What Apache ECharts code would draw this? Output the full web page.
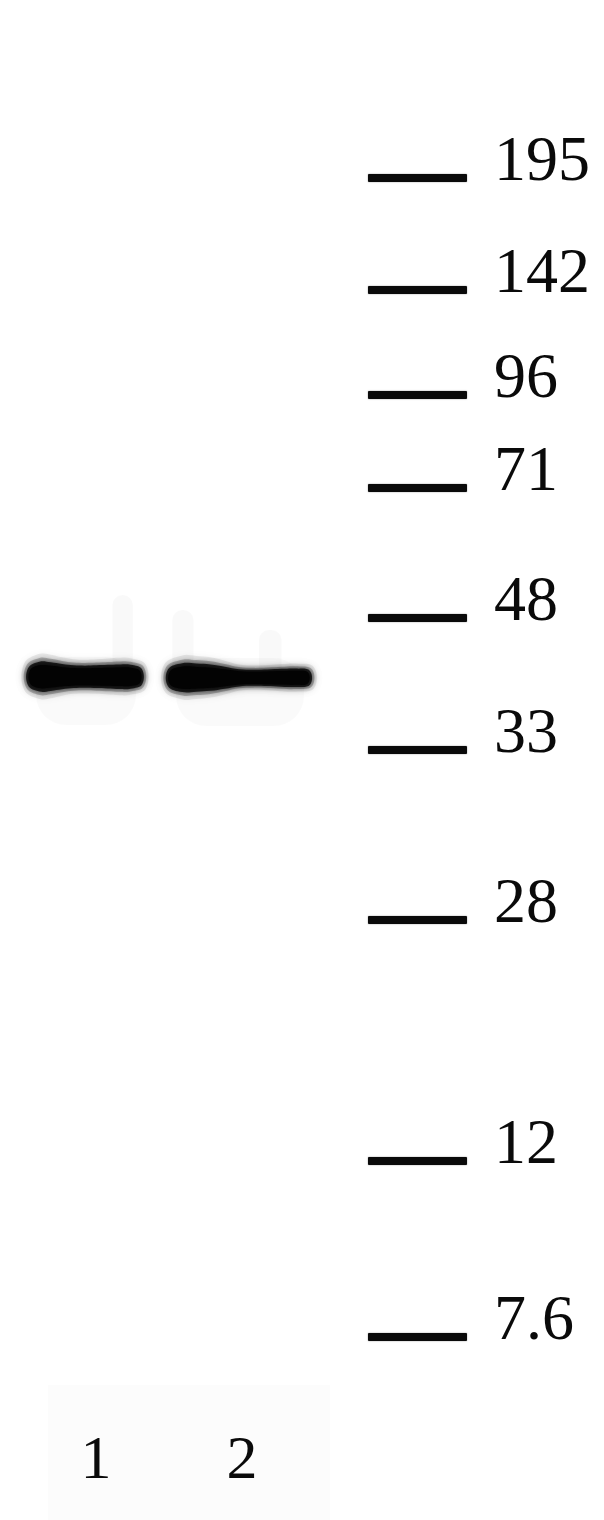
<!DOCTYPE html>
<html>
<head>
<meta charset="utf-8">
<style>
html,body{margin:0;padding:0;background:#ffffff;}
#chart{width:604px;height:1520px;}
</style>
<script src="https://cdn.jsdelivr.net/npm/echarts@6/dist/echarts.min.js"></script>
</head>
<body>
<div id="chart"></div>
<script>
// ---- data read from the blot ----
// Ladder: marker sizes (kDa) and migration distance from top of gel
const markerLabels = ['195', '142', '96', '71', '48', '33', '28', '12', '7.6'];
const markerMigration = [178, 290, 395, 488, 618, 750, 920, 1161, 1337];
const ladderLane = 418;

// Sample lanes
const laneNames = ['1', '2'];
const laneCenters = [96, 242];
const bandMigration = [677, 678];
const bandLeft = [28, 168];
const bandRight = [142, 310];
// band density sampled evenly across each band, left to right
const lane1Density = [0.55, 0.97, 0.93, 0.82, 0.74, 0.72, 0.74, 0.77, 0.8, 0.78, 0.5];
const lane2Density = [0.55, 0.94, 0.92, 0.86, 0.72, 0.56, 0.52, 0.54, 0.58, 0.6, 0.45];
const laneDensities = [lane1Density, lane2Density];
const laneLabelMigration = 1461;

// ---- chart ----
const chart = echarts.init(document.getElementById('chart'), null, {renderer: 'canvas'});
const SERIF = '"Liberation Serif", "DejaVu Serif", serif';

function bandPoints(api, i, scale, pad) {
  const dens = laneDensities[i];
  const n = dens.length;
  const yMid = bandMigration[i];
  const halfMax = 15 * scale;
  const top = [], bot = [];
  for (let k = 0; k < n; k++) {
    const xv = bandLeft[i] + (bandRight[i] - bandLeft[i]) * k / (n - 1);
    const p = api.coord([xv, yMid]);
    const px = p[0] + (k === 0 ? -pad : (k === n - 1 ? pad : 0));
    const h = halfMax * dens[k];
    top.push([px, p[1] - h]);
    bot.push([px, p[1] + h * 0.95]);
  }
  return top.concat(bot.reverse());
}

function bandItem(params, api) {
  const i = api.value(0);
  const yMid = bandMigration[i];
  const l = api.coord([bandLeft[i], yMid]);
  const r = api.coord([bandRight[i], yMid]);
  const children = [];
  // faint haze below and around the band
  children.push({
    type: 'rect',
    shape: {x: l[0] + 8, y: l[1] - 20, width: r[0] - l[0] - 14, height: 68, r: 30},
    style: {fill: 'rgba(0,0,0,0.02)', shadowBlur: 30, shadowColor: 'rgba(0,0,0,0.05)'}
  });
  // vertical smears above the band
  const smears = i === 0 ? [[0.74, 0.92, 595]] : [[0.03, 0.18, 610], [0.64, 0.8, 630]];
  smears.forEach(function (s) {
    const a = api.coord([bandLeft[i] + (bandRight[i] - bandLeft[i]) * s[0], s[2]]);
    const b = api.coord([bandLeft[i] + (bandRight[i] - bandLeft[i]) * s[1], yMid]);
    children.push({
      type: 'rect',
      shape: {x: a[0], y: a[1], width: b[0] - a[0], height: b[1] - a[1], r: 10},
      style: {fill: 'rgba(0,0,0,0.022)', shadowBlur: 14, shadowColor: 'rgba(0,0,0,0.04)'}
    });
  });
  // layered soft band: outer halo to dark core
  const layers = [
    [1.6, 4, 'rgba(0,0,0,0.07)', 22],
    [1.3, 2, 'rgba(0,0,0,0.22)', 14],
    [1.05, 0, 'rgba(0,0,0,0.75)', 9],
    [0.8, -2, '#030303', 6]
  ];
  layers.forEach(function (L) {
    children.push({
      type: 'polygon',
      shape: {points: bandPoints(api, i, L[0], L[1]), smooth: 0.4},
      style: {fill: L[2], shadowBlur: L[3], shadowColor: L[2]}
    });
  });
  return {type: 'group', children: children};
}

function markerItem(params, api) {
  const x = api.value(0), y = api.value(1), idx = api.value(2);
  const p = api.coord([x, y]);
  return {
    type: 'group',
    children: [
      {
        type: 'rect',
        shape: {x: p[0] - 50, y: p[1] - 4, width: 99, height: 8, r: 1},
        style: {fill: '#0a0a0a', shadowBlur: 1.5, shadowColor: 'rgba(0,0,0,0.5)'}
      },
      {
        type: 'text',
        style: {
          x: p[0] + 76, y: p[1] - 47,
          text: markerLabels[idx],
          font: '64px ' + SERIF,
          fill: '#0a0a0a',
          align: 'left',
          verticalAlign: 'top'
        }
      }
    ]
  };
}

function laneLabelItem(params, api) {
  const p = api.coord([api.value(0), api.value(1)]);
  return {
    type: 'text',
    style: {
      x: p[0], y: p[1] - 30,
      text: laneNames[api.value(2)],
      font: '62px ' + SERIF,
      fill: '#0a0a0a',
      align: 'center',
      verticalAlign: 'top'
    }
  };
}

function bgItem(params, api) {
  const a = api.coord([48, 1385]);
  const b = api.coord([330, 1520]);
  return {
    type: 'rect',
    shape: {x: a[0], y: a[1], width: b[0] - a[0], height: b[1] - a[1]},
    style: {fill: 'rgba(0,0,0,0.012)', shadowBlur: 20, shadowColor: 'rgba(0,0,0,0.015)'}
  };
}

const option = {
  backgroundColor: '#ffffff',
  animation: false,
  grid: {left: 0, right: 0, top: 0, bottom: 0},
  xAxis: {type: 'value', min: 0, max: 604, show: false},
  yAxis: {type: 'value', min: 0, max: 1520, inverse: true, show: false},
  series: [
    {type: 'custom', renderItem: bgItem, data: [[0]], silent: true, z: 1},
    {
      type: 'custom',
      renderItem: bandItem,
      data: laneNames.map(function (n, i) { return [i]; }),
      silent: true,
      z: 2
    },
    {
      type: 'custom',
      renderItem: markerItem,
      data: markerMigration.map(function (m, i) { return [ladderLane, m, i]; }),
      silent: true,
      z: 3
    },
    {
      type: 'custom',
      renderItem: laneLabelItem,
      data: laneCenters.map(function (c, i) { return [c, laneLabelMigration, i]; }),
      silent: true,
      z: 3
    }
  ]
};
chart.setOption(option);
</script>
</body>
</html>
